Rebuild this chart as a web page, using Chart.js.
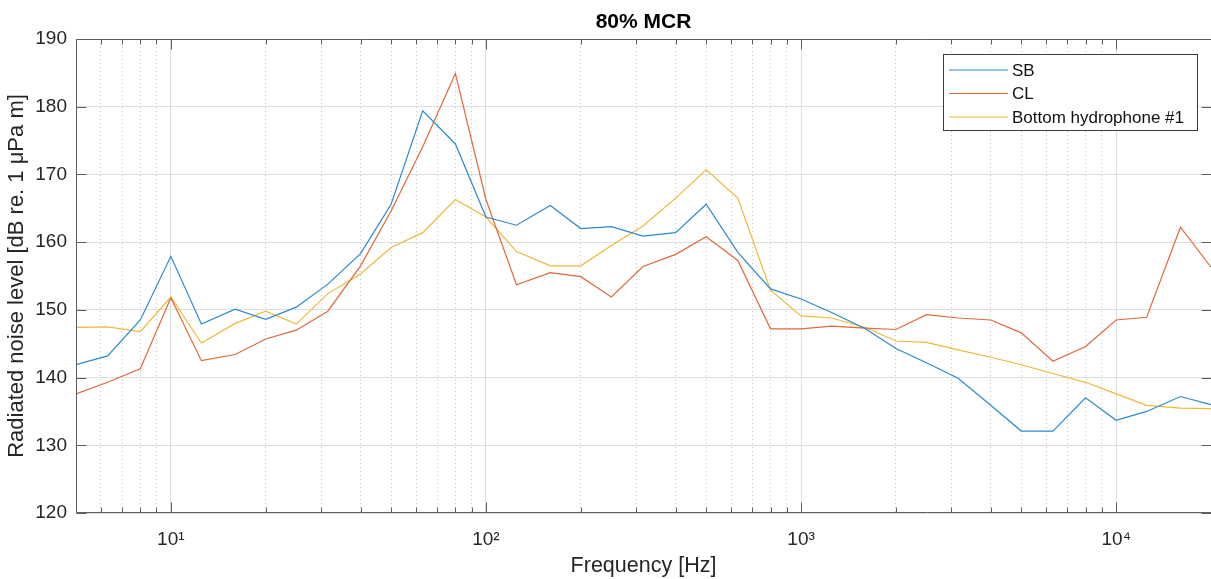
<!DOCTYPE html>
<html>
<head>
<meta charset="utf-8">
<script src="https://cdn.jsdelivr.net/npm/chart.js@4.4.1/dist/chart.umd.min.js"></script>
<style>
html,body{margin:0;padding:0;background:#fff;overflow:hidden}
canvas{display:block}
</style>
</head>
<body>
<canvas id="c" width="1211" height="579"></canvas>
<script>
// ---- data ----
const frequencies = [5, 6.3, 8, 10, 12.5, 16, 20, 25, 31.5, 40, 50, 63, 80, 100, 125, 160, 200, 250, 315, 400, 500, 630, 800, 1000, 1250, 1600, 2000, 2500, 3150, 4000, 5000, 6300, 8000, 10000, 12500, 16000, 20000];
const sbLevels = [141.9, 143.2, 148.5, 157.9, 147.9, 150.1, 148.6, 150.4, 153.8, 158.3, 165.6, 179.4, 174.5, 163.7, 162.5, 165.4, 162.0, 162.3, 160.9, 161.4, 165.6, 158.5, 153.1, 151.6, 149.6, 147.2, 144.3, 142.2, 139.9, 135.9, 132.1, 132.1, 137.0, 133.7, 135.0, 137.2, 136.0];
const clLevels = [137.6, 139.3, 141.3, 151.8, 142.5, 143.4, 145.7, 147.0, 149.8, 156.5, 164.6, 174.1, 184.9, 166.3, 153.7, 155.5, 154.9, 151.9, 156.4, 158.2, 160.8, 157.3, 147.2, 147.2, 147.6, 147.3, 147.1, 149.3, 148.8, 148.5, 146.6, 142.4, 144.6, 148.5, 148.9, 162.2, 156.3];
const bottomLevels = [147.4, 147.5, 146.8, 151.9, 145.1, 148.0, 149.8, 147.9, 152.4, 155.3, 159.2, 161.4, 166.3, 163.7, 158.6, 156.5, 156.5, 159.5, 162.4, 166.5, 170.7, 166.5, 152.9, 149.1, 148.8, 147.4, 145.4, 145.2, 144.1, 143.0, 141.9, 140.6, 139.3, 137.6, 135.9, 135.5, 135.4];
const seriesNames = ['SB', 'CL', 'Bottom hydrophone #1'];
const seriesColors = ['#2a8ad0', '#e0693a', '#efb838'];
const yTickValues = [120, 130, 140, 150, 160, 170, 180, 190];
const xTickLabels = {10: '10¹', 100: '10²', 1000: '10³', 10000: '10⁴'};
const xMin = 5, xMax = 20000;
const chartTitle = '80% MCR';
const xTitle = 'Frequency [Hz]';
const yTitle = 'Radiated noise level [dB re. 1 μPa m]';

// ---- helpers ----
const FONT = "'Liberation Sans', Arial, Helvetica, sans-serif";
function isMajor(v) {
  const l = Math.log10(v);
  return Math.abs(l - Math.round(l)) < 1e-9;
}
function logTicks(min, max) {
  const out = [];
  for (let e = Math.floor(Math.log10(min)); e <= Math.ceil(Math.log10(max)); e++) {
    for (let m = 1; m <= 9; m++) {
      const v = m * Math.pow(10, e);
      if (v >= min - 1e-9 && v <= max + 1e-9) out.push({value: v});
    }
  }
  return out;
}

const framePlugin = {
  id: 'frame',
  afterDraw(chart) {
    const {ctx, chartArea: a, scales: {x, y}} = chart;
    ctx.save();
    ctx.strokeStyle = '#5e5e5e';
    ctx.lineWidth = 1;
    const L = Math.round(a.left) + 0.5, R = Math.round(a.right) + 0.5;
    const T = Math.round(a.top) + 0.5, B = Math.round(a.bottom) - 0.5;
    ctx.beginPath();
    ctx.moveTo(L, T); ctx.lineTo(R, T); ctx.lineTo(R, B); ctx.lineTo(L, B); ctx.closePath();
    ctx.stroke();
    ctx.beginPath();
    x.ticks.forEach(t => {
      const px = Math.round(x.getPixelForValue(t.value)) + 0.5;
      const len = isMajor(t.value) ? 10 : 5;
      ctx.moveTo(px, B); ctx.lineTo(px, B - len);
      ctx.moveTo(px, T); ctx.lineTo(px, T + len);
    });
    y.ticks.forEach(t => {
      const py = Math.round(y.getPixelForValue(t.value)) + 0.5;
      ctx.moveTo(L, py); ctx.lineTo(L + 10, py);
      ctx.moveTo(R, py); ctx.lineTo(R - 10, py);
    });
    ctx.stroke();

    // legend box
    const bx = 943.5, by = 54.5, bw = 254, bh = 76;
    ctx.fillStyle = '#ffffff';
    ctx.fillRect(bx, by, bw, bh);
    ctx.strokeStyle = '#3a3a3a';
    ctx.strokeRect(bx, by, bw, bh);
    const rows = [70, 93.5, 117];
    ctx.font = '17px ' + FONT;
    ctx.textBaseline = 'middle';
    ctx.textAlign = 'left';
    chart.data.datasets.forEach((ds, i) => {
      ctx.strokeStyle = ds.borderColor;
      ctx.lineWidth = 1.2;
      ctx.beginPath();
      ctx.moveTo(949, rows[i]); ctx.lineTo(1008, rows[i]);
      ctx.stroke();
      ctx.fillStyle = '#111';
      ctx.fillText(ds.label, 1012, rows[i] + 1);
    });
    ctx.restore();
  }
};

const series = [sbLevels, clLevels, bottomLevels];
const datasets = series.map((vals, i) => ({
  label: seriesNames[i],
  data: frequencies.map((f, j) => ({x: f, y: vals[j]})),
  borderColor: seriesColors[i],
  backgroundColor: seriesColors[i],
  borderWidth: 1.2,
  pointRadius: 0,
  tension: 0,
  fill: false
}));

new Chart(document.getElementById('c'), {
  type: 'line',
  data: {datasets},
  options: {
    responsive: false,
    animation: false,
    devicePixelRatio: 1,
    layout: {padding: 0},
    plugins: {
      legend: {display: false},
      tooltip: {enabled: false},
      title: {
        display: true,
        fullSize: false,
        text: chartTitle,
        color: '#000',
        font: {family: FONT, size: 21, weight: 'bold'},
        padding: {top: 10, bottom: 3.8}
      }
    },
    scales: {
      x: {
        type: 'logarithmic',
        min: xMin,
        max: xMax,
        afterBuildTicks: (scale) => { scale.ticks = logTicks(xMin, xMax); },
        afterFit: (scale) => { scale.height = 66; scale.paddingLeft = 0; scale.paddingRight = 0; },
        ticks: {
          autoSkip: false,
          maxRotation: 0,
          minRotation: 0,
          padding: 15,
          color: '#262626',
          font: {family: FONT, size: 19},
          callback: (v) => xTickLabels[v] || ''
        },
        grid: {
          drawTicks: false,
          lineWidth: 1,
          color: (c) => (c.tick && !isMajor(c.tick.value)) ? '#cbcbcb' : '#dedede'
        },
        border: {
          display: false,
          dash: (c) => (c.tick && !isMajor(c.tick.value)) ? [1.2, 2.8] : []
        },
        title: {
          display: true,
          text: xTitle,
          color: '#262626',
          font: {family: FONT, size: 21.5},
          padding: {top: 0, bottom: 0}
        }
      },
      y: {
        type: 'linear',
        min: 120,
        max: 190,
        afterBuildTicks: (scale) => { scale.ticks = yTickValues.map(v => ({value: v})); },
        afterFit: (scale) => { scale.width = 76; scale.paddingTop = 0; scale.paddingBottom = 0; },
        ticks: {
          padding: 9,
          color: '#262626',
          font: {family: FONT, size: 19}
        },
        grid: {
          drawTicks: false,
          lineWidth: 1,
          color: '#dedede'
        },
        border: {display: false},
        title: {
          display: true,
          text: yTitle,
          color: '#262626',
          font: {family: FONT, size: 22},
          padding: {top: 3.5, bottom: 0}
        }
      }
    }
  },
  plugins: [framePlugin]
});
</script>
</body>
</html>
